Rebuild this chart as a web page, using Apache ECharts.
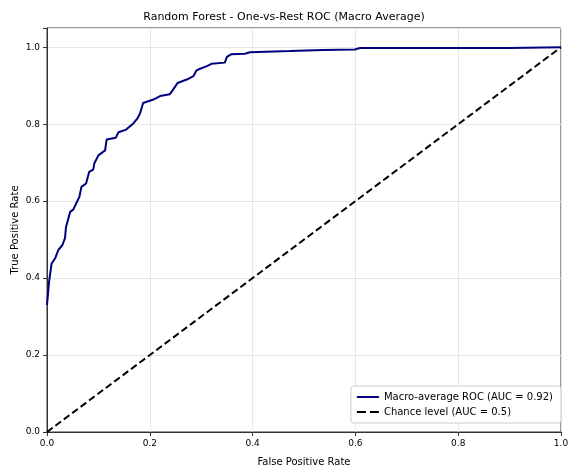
<!DOCTYPE html>
<html>
<head>
<meta charset="utf-8">
<script src="https://cdn.jsdelivr.net/npm/echarts@6/dist/echarts.min.js"></script>
<style>
  html, body { margin: 0; padding: 0; background: #fff; }
  #chart { width: 568px; height: 468px; }
</style>
</head>
<body>
<div id="chart"></div>
<script>
// macro-average ROC points: [fpr, tpr]
var rocFpr = [0.000, 0.001, 0.004, 0.009, 0.016, 0.022, 0.030, 0.035, 0.037, 0.045, 0.051, 0.056, 0.063, 0.067,
  0.076, 0.082, 0.090, 0.092, 0.100, 0.113, 0.116, 0.134, 0.139, 0.154, 0.158, 0.168, 0.176, 0.181, 0.187,
  0.207, 0.220, 0.239, 0.249, 0.254, 0.272, 0.285, 0.291, 0.298, 0.311, 0.320, 0.346, 0.350, 0.359, 0.385,
  0.395, 0.473, 0.537, 0.599, 0.609, 0.667, 0.898, 0.901, 1.000];
var rocTpr = [0.330, 0.334, 0.390, 0.438, 0.452, 0.473, 0.486, 0.504, 0.533, 0.572, 0.578, 0.592, 0.611, 0.637,
  0.646, 0.676, 0.682, 0.698, 0.719, 0.732, 0.760, 0.765, 0.779, 0.786, 0.791, 0.802, 0.815, 0.828, 0.855,
  0.864, 0.873, 0.878, 0.897, 0.907, 0.916, 0.925, 0.940, 0.944, 0.951, 0.957, 0.960, 0.975, 0.982, 0.983,
  0.987, 0.990, 0.993, 0.994, 0.998, 0.998, 0.998, 1.000, 1.000];
var chanceFpr = [0, 1];
var chanceTpr = [0, 1];
var tickValues = [0, 0.2, 0.4, 0.6, 0.8, 1.0];
var rocName = 'Macro-average ROC (AUC = 0.92)';
var chanceName = 'Chance level (AUC = 0.5)';

function pairs(xs, ys) {
  return xs.map(function (x, i) { return [x, ys[i]]; });
}

var font = 'DejaVu Sans';
var axisColor = '#333';
var tickFmt = function (v) {
  return tickValues.some(function (t) { return Math.abs(t - v) < 1e-9; }) ? v.toFixed(1) : '';
};

var chart = echarts.init(document.getElementById('chart'), null, { renderer: 'canvas' });
chart.setOption({
  animation: false,
  backgroundColor: '#fff',
  title: {
    text: 'Random Forest - One-vs-Rest ROC (Macro Average)',
    left: 'center',
    top: 7,
    textStyle: { fontFamily: font, fontSize: 11, fontWeight: 'normal', color: '#000' }
  },
  grid: {
    left: 47, right: 7, top: 28, bottom: 36,
    containLabel: false,
    outerBoundsMode: 'none',
    show: true, borderColor: axisColor, borderWidth: 1, backgroundColor: 'transparent'
  },
  legend: {
    orient: 'vertical',
    right: 7,
    bottom: 45,
    padding: [6, 8, 6, 6],
    itemGap: 5,
    itemWidth: 22,
    itemHeight: 2,
    backgroundColor: '#fff',
    borderColor: '#cccccc',
    borderWidth: 1,
    borderRadius: 3,
    textStyle: { fontFamily: font, fontSize: 10, color: '#000' },
    data: [
      { name: rocName, icon: 'path://M0,0H22V2H0Z', itemStyle: { color: '#000080' } },
      { name: chanceName, icon: 'path://M0,0H9V2H0Z M13,0H22V2H13Z', itemStyle: { color: '#000' } }
    ]
  },
  xAxis: {
    type: 'value', min: 0, max: 1, interval: 0.2,
    name: 'False Positive Rate', nameLocation: 'middle', nameGap: 25,
    nameTextStyle: { fontFamily: font, fontSize: 10, color: '#000' },
    axisLine: { lineStyle: { color: axisColor } },
    axisTick: { show: true, length: 4, lineStyle: { color: axisColor } },
    axisLabel: { fontFamily: font, fontSize: 9, color: '#000', margin: 7, formatter: tickFmt },
    splitLine: { show: true, lineStyle: { color: '#e6e6e6', width: 1 } }
  },
  yAxis: {
    type: 'value', min: 0, max: 1.05, interval: 0.2,
    name: 'True Positive Rate', nameLocation: 'middle', nameGap: 27,
    nameMoveOverlap: false,
    nameTextStyle: { fontFamily: font, fontSize: 10, color: '#000' },
    axisLine: { show: true, lineStyle: { color: axisColor } },
    axisTick: { show: true, length: 4, lineStyle: { color: axisColor } },
    axisLabel: { fontFamily: font, fontSize: 9, color: '#000', margin: 7, formatter: tickFmt },
    splitLine: { show: true, lineStyle: { color: '#e6e6e6', width: 1 } }
  },
  series: [
    {
      name: rocName,
      type: 'line',
      data: pairs(rocFpr, rocTpr),
      symbol: 'none',
      lineStyle: { color: '#000080', width: 2 },
      itemStyle: { color: '#000080' },
      z: 3
    },
    {
      name: chanceName,
      type: 'line',
      data: pairs(chanceFpr, chanceTpr),
      symbol: 'none',
      lineStyle: { color: '#000', width: 2, type: [7, 3.5] },
      itemStyle: { color: '#000' },
      z: 2
    }
  ]
});
</script>
</body>
</html>
